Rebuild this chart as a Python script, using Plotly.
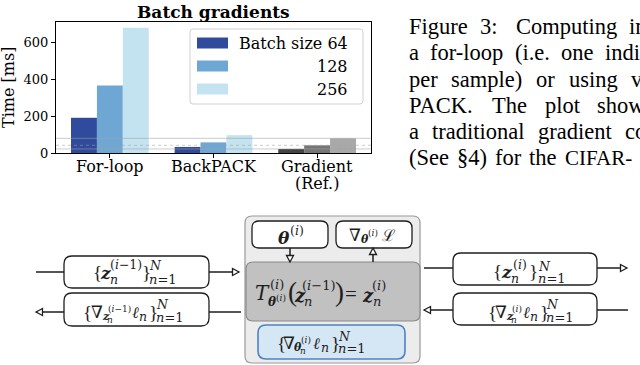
import math
import plotly.graph_objects as go

# ---------------- data ----------------
categories = ["For-loop", "BackPACK", "Gradient<br>(Ref.)"]
batch64 = [192, 33, 22]
batch128 = [368, 58, 42]
batch256 = [683, 97, 80]
legend_labels = ["Batch size 64", "128", "256"]
blue_colors = ["#304a9c", "#6ea7d3", "#c2e3ef"]
gray_colors = ["#444444", "#767676", "#a9a9a9"]
yticks = [0, 200, 400, 600]

caption_words = [
    ["Figure", "3:", "Computing", "in"],
    ["a", "for-loop", "(i.e.", "one", "indi"],
    ["per", "sample)", "or", "using", "v"],
    ["PACK.", "The", "plot", "show"],
    ["a", "traditional", "gradient", "co"],
    ["(See", "§4)", "for", "the", "CIFAR-"],
]

W, H = 640, 365
L, R, T, B = 56, 371, 22, 153
SERIF = "DejaVu Serif"
TIMES = "Liberation Serif"
MATH = "DejaVu Serif"
NABLA_FONT = "Liberation Serif, Noto Sans, DejaVu Serif"
INK = "#1e1e1e"


def X(px):
    return (px - L) / (R - L)


def Y(py):
    return (B - py) / (B - T)


fig = go.Figure()
series = [batch64, batch128, batch256]
for i, vals in enumerate(series):
    cols = [blue_colors[i]] * (len(categories) - 1) + [gray_colors[i]]
    fig.add_trace(go.Bar(x=categories, y=vals, name=legend_labels[i],
                         marker=dict(color=cols, line=dict(width=0)),
                         showlegend=False, hoverinfo="skip"))

shapes = []
annotations = []

# reference lines at gradient level
ref_vals = [s[-1] for s in series]
for v, d in zip(ref_vals, ["solid", "dot", "solid"]):
    shapes.append(dict(type="line", xref="paper", yref="y", x0=0, x1=1, y0=v, y1=v,
                       line=dict(color="rgba(160,160,160,0.55)", width=1, dash=d),
                       layer="above"))


def rrect_path(x0, y0, x1, y1, r):
    pts = [
        ("M", [(x0 + r, y0)]), ("L", [(x1 - r, y0)]), ("Q", [(x1, y0), (x1, y0 + r)]),
        ("L", [(x1, y1 - r)]), ("Q", [(x1, y1), (x1 - r, y1)]), ("L", [(x0 + r, y1)]),
        ("Q", [(x0, y1), (x0, y1 - r)]), ("L", [(x0, y0 + r)]), ("Q", [(x0, y0), (x0 + r, y0)]),
    ]
    s = ""
    for cmd, ps in pts:
        s += cmd + " " + " ".join(f"{X(a):.5f},{Y(b):.5f}" for a, b in ps) + " "
    return s + "Z"


def rbox(x0, y0, x1, y1, r, fill, line, lw):
    shapes.append(dict(type="path", xref="paper", yref="paper",
                       path=rrect_path(x0, y0, x1, y1, r),
                       fillcolor=fill, line=dict(color=line, width=lw), layer="above"))


def seg(x0, y0, x1, y1, color=INK, lw=1.5):
    shapes.append(dict(type="line", xref="paper", yref="paper",
                       x0=X(x0), y0=Y(y0), x1=X(x1), y1=Y(y1),
                       line=dict(color=color, width=lw), layer="above"))


def arrow(x0, y0, x1, y1):
    seg(x0, y0, x1, y1)
    dx, dy = x1 - x0, y1 - y0
    n = math.hypot(dx, dy)
    ux, uy = dx / n, dy / n
    ln, hw = 6.5, 3.5
    bx, by = x1 - ux * ln, y1 - uy * ln
    p1 = (bx - uy * hw, by + ux * hw)
    p2 = (bx + uy * hw, by - ux * hw)
    path = f"M {X(x1):.5f},{Y(y1):.5f} L {X(p1[0]):.5f},{Y(p1[1]):.5f} L {X(p2[0]):.5f},{Y(p2[1]):.5f} Z"
    shapes.append(dict(type="path", xref="paper", yref="paper", path=path,
                       fillcolor="white", line=dict(color=INK, width=1.3), layer="above"))


def txt(px, py, s, size, anchor="left", family=MATH, color=INK, angle=0):
    annotations.append(dict(x=X(px), y=Y(py), xref="paper", yref="paper", text=s,
                            showarrow=False, xanchor=anchor, yanchor="middle",
                            font=dict(family=family, size=size, color=color),
                            textangle=angle, borderpad=0))


# ---------------- chart extras ----------------
txt((L + R) / 2, 12, "<b>Batch gradients</b>", 17, "center", SERIF, "black")
txt(8, 87, "Time [ms]", 16, "center", SERIF, "black", -90)

# category labels (multi-line, tight spacing)
for ci, cat in enumerate(categories):
    for k, part in enumerate(cat.split("<br>")):
        annotations.append(dict(x=ci, y=Y(166 + 17 * k), xref="x", yref="paper", text=part,
                                showarrow=False, xanchor="center", yanchor="middle",
                                font=dict(family=SERIF, size=16, color="black")))

# legend
rbox(190, 29, 363, 104, 3, "rgba(255,255,255,0.85)", "#d0d0d0", 1)
for i, cy in enumerate([43, 66, 89]):
    shapes.append(dict(type="rect", xref="paper", yref="paper",
                       x0=X(197), x1=X(228), y0=Y(cy - 5.5), y1=Y(cy + 5.5),
                       fillcolor=blue_colors[i], line=dict(width=0), layer="above"))
    txt(349, cy, legend_labels[i], 16, "right", SERIF, "black")

# caption (justified: words spread so that last word starts at target)
TW = dict(a=444, b=500, c=444, d=500, e=444, f=333, g=500, h=500, i=278, j=278, k=500,
          l=278, m=778, n=500, o=500, p=500, q=500, r=333, s=389, t=278, u=500, v=500,
          w=722, x=500, y=500, z=444, F=556, P=556, A=722, C=667, K=722, S=556, T=611)
TW.update({"(": 333, ")": 333, ".": 250, ":": 278, "-": 333, "§": 500, "3": 500, "4": 500})
CAP = 22.5


def tw(s, size):
    return sum(TW.get(c, 500) for c in s) / 1000.0 * size


last_start = [628, 604, 630, 596, 624, 564]
for li, words in enumerate(caption_words):
    cy = 27 + 26 * li
    weights = [1.6 if (li == 0 and gi == 1) else 1.0 for gi in range(len(words) - 1)]
    used = sum(tw(w, CAP) for w in words[:-1])
    gap_total = last_start[li] - 408 - used
    unit = gap_total / sum(weights)
    x = 408.0
    for wi, w in enumerate(words):
        if wi == len(words) - 1:
            x = last_start[li]
        if w == "CIFAR-":
            txt(x, cy + 1, w, 21, "left", TIMES, "black")
        else:
            txt(x, cy, w, CAP, "left", TIMES, "black")
        if wi < len(words) - 1:
            x += tw(w, CAP) + unit * weights[wi]

# ---------------- diagram ----------------
rbox(245, 216, 420, 363, 7, "#ececec", "#9a9a9a", 1.2)
rbox(252, 221, 328, 248, 7, "white", INK, 1.3)
rbox(336, 221, 412, 248, 7, "white", INK, 1.3)
rbox(246, 262, 420, 321, 7, "#c1c1c1", "#8a8a8a", 1.2)
rbox(258, 325, 405, 359, 8, "#d5e7f4", "#4f82c0", 1.6)
arrow(290, 248, 290, 262)
arrow(373, 262, 373, 248)

rbox(64, 256, 209, 288, 8, "white", INK, 1.3)
rbox(64, 293, 209, 326, 8, "white", INK, 1.3)
seg(36, 272, 64, 272)
arrow(209, 272, 239, 272)
seg(209, 312, 241, 312)
arrow(64, 312, 36, 312)

rbox(453, 253, 597, 285, 8, "white", INK, 1.3)
rbox(453, 293, 597, 325, 8, "white", INK, 1.3)
seg(424, 268, 453, 268)
arrow(597, 268, 627, 268)
seg(597, 310, 628, 310)
arrow(453, 310, 424, 310)

Z = "<b><i>z</i></b>"
TH = "<b><i>θ</i></b>"
I1 = "(<i>i</i>−1)"
I0 = "(<i>i</i>)"
NN = "<i>n</i>"
N1 = "<i>n</i>=1"
NB = "<i>N</i>"
ELL = "<i>ℓ</i>"
LIB = TIMES
NF = NABLA_FONT
M, S1, S2, BR, NA = 17, 12.5, 9, 19, 17

# (text, x, y, size, family)
formulas = [
    # left top
    [("{", 92, 272, BR, LIB), (Z, 99, 273, M, MATH), (NN, 108.5, 279, S1, MATH),
     (I1, 109, 264, S1, MATH), ("}", 141, 272, BR, LIB), (NB, 148, 265, S1, MATH),
     (N1, 148, 279, 13, MATH)],
    # left bottom
    [("{", 82, 312, BR, LIB), ("∇", 89.5, 312, NA, NF), (Z, 100.5, 316, 11, MATH),
     (NN, 105.5, 320, S2, MATH), (I1, 107, 309, S2, MATH), (ELL, 131, 312, 16, MATH),
     (NN, 138, 316, S1, MATH), ("}", 148, 312, BR, LIB), (NB, 155, 304, S1, MATH),
     (N1, 155, 317, 13, MATH)],
    # theta
    [(TH, 277, 238, M, MATH), (I0, 288.5, 231, S1, MATH)],
    # grad L
    [("∇", 348, 236, NA, NF), (TH, 360, 240, 11, MATH), (I0, 366.5, 233, S2, MATH),
     ("ℒ", 381, 235, 16, MATH)],
    # T formula
    [("<i>T</i>", 254, 293, 20, MATH), (I0, 268.5, 284, 13, MATH), (TH, 267, 302, 12, MATH),
     (I0, 275, 298, 9, MATH), ("(", 287, 292, 27, LIB), (Z, 293, 295, 18, MATH),
     (NN, 303, 301, 13, MATH), (I1, 301, 285, 13, MATH), (")", 334, 292, 27, LIB),
     ("=", 344, 294, 21, LIB), (Z, 361, 295, 18, MATH), (NN, 372, 301, 13, MATH),
     (I0, 371, 285, 13, MATH)],
    # blue
    [("{", 276, 343, BR, LIB), ("∇", 281.5, 343, NA, NF), (TH, 292.5, 347, 11, MATH),
     (NN, 298.5, 351, S2, MATH), (I0, 300, 340, S2, MATH), (ELL, 312, 343, 16, MATH),
     (NN, 319.5, 347, S1, MATH), ("}", 329.5, 343, BR, LIB), (NB, 337, 336, S1, MATH),
     (N1, 337, 348, 13, MATH)],
    # right top
    [("{", 492, 271, BR, LIB), (Z, 500, 272, M, MATH), (NN, 510, 278, S1, MATH),
     (I0, 512, 264, S1, MATH), ("}", 528, 271, BR, LIB), (NB, 537, 266, S1, MATH),
     (N1, 537, 278, 13, MATH)],
    # right bottom
    [("{", 487, 312, BR, LIB), ("∇", 493.5, 312, NA, NF), (Z, 504.5, 316, 11, MATH),
     (NN, 509.5, 320, S2, MATH), (I0, 510.5, 309, S2, MATH), (ELL, 522, 312, 16, MATH),
     (NN, 529, 316, S1, MATH), ("}", 538.5, 312, BR, LIB), (NB, 545, 304, S1, MATH),
     (N1, 545, 317, 13, MATH)],
]
for f in formulas:
    for s, px, py, size, fam in f:
        txt(px, py, s, size, "left", fam)

fig.update_layout(
    width=W, height=H,
    margin=dict(l=L, r=W - R, t=T, b=H - B, pad=0, autoexpand=False),
    paper_bgcolor="white", plot_bgcolor="white",
    barmode="group", bargap=0.25, bargroupgap=0,
    shapes=shapes, annotations=annotations,
    showlegend=False,
    xaxis=dict(range=[-0.52, 2.52], showline=True, mirror=True, linecolor="black",
               linewidth=1, ticks="outside", ticklen=4, tickcolor="black",
               showticklabels=False, showgrid=False, fixedrange=True),
    yaxis=dict(range=[0, 714], tickvals=yticks, showline=True, mirror=True,
               linecolor="black", linewidth=1, ticks="outside", ticklen=4,
               tickcolor="black", tickfont=dict(family=SERIF, size=13, color="black"),
               showgrid=False, zeroline=False, fixedrange=True),
)

fig.write_html("out.html", config={"displayModeBar": False, "staticPlot": True},
               post_script="document.body.style.margin='0';document.body.style.overflow='hidden';")
